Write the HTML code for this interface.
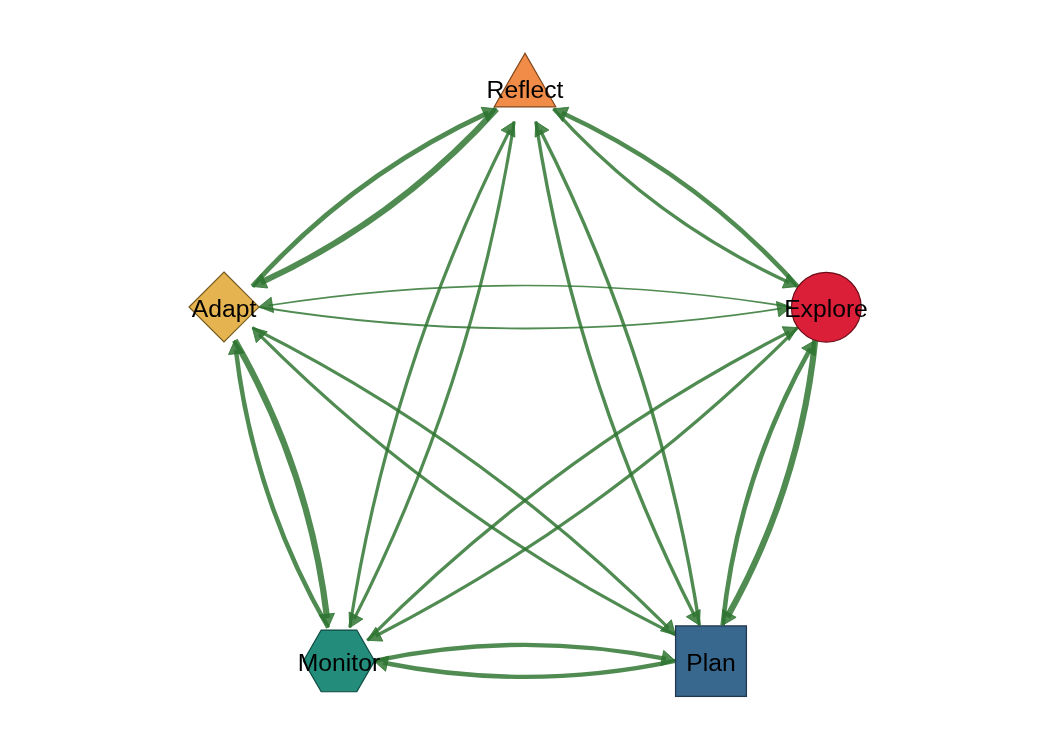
<!DOCTYPE html>
<html><head><meta charset="utf-8"><style>
html,body{margin:0;padding:0;background:#fff;}
svg{display:block;}
text{font-family:"Liberation Sans",sans-serif;font-size:24.7px;fill:#000;text-anchor:middle;}
</style></head><body>
<svg width="1050" height="750" viewBox="0 0 1050 750">
<rect width="1050" height="750" fill="#fff"/>
<g fill="none" stroke="#2C742F" stroke-opacity="0.83" stroke-linecap="butt">
<path d="M258.99 307.00Q520.33 349.24 781.68 308.48" stroke-width="1.8"/>
<path d="M791.01 307.00Q529.67 264.75 268.32 305.51" stroke-width="1.7"/>
<path d="M553.32 108.87Q653.53 220.02 789.09 282.52" stroke-width="3.3"/>
<path d="M797.69 286.42Q697.48 175.27 561.92 112.78" stroke-width="4.6"/>
<path d="M535.82 121.59Q576.01 381.99 695.13 616.74" stroke-width="3.4"/>
<path d="M699.43 625.15Q659.24 364.75 540.12 130.00" stroke-width="3.4"/>
<path d="M373.97 660.85Q520.02 629.84 666.08 658.95" stroke-width="4.4"/>
<path d="M675.33 660.85Q529.28 691.87 383.22 662.76" stroke-width="4.4"/>
<path d="M496.68 108.87Q396.47 220.02 260.91 282.52" stroke-width="6.0"/>
<path d="M252.31 286.42Q352.52 175.27 488.08 112.78" stroke-width="4.8"/>
<path d="M514.18 121.59Q473.60 383.19 354.08 619.15" stroke-width="3.2"/>
<path d="M349.78 627.57Q390.36 365.96 509.89 130.01" stroke-width="3.2"/>
<path d="M797.69 327.57Q611.09 515.36 375.70 635.99" stroke-width="3.2"/>
<path d="M367.28 640.28Q553.88 452.49 789.27 331.86" stroke-width="3.2"/>
<path d="M815.19 340.28Q799.84 487.90 727.32 616.95" stroke-width="6.2"/>
<path d="M722.63 625.15Q737.99 477.54 810.51 348.49" stroke-width="4.6"/>
<path d="M252.31 327.57Q484.87 444.33 668.67 628.21" stroke-width="3.2"/>
<path d="M675.33 634.92Q442.77 518.15 258.97 334.27" stroke-width="3.2"/>
<path d="M234.81 340.28Q309.55 469.94 327.10 618.18" stroke-width="6.2"/>
<path d="M328.15 627.57Q253.41 497.91 235.86 349.67" stroke-width="4.5"/>
</g>
<g fill="#2C742F" fill-opacity="0.83" stroke="#2C742F" stroke-opacity="0.83" stroke-width="1" stroke-linejoin="miter">
<polygon points="791.01,307.00 778.92,316.80 776.45,301.50"/>
<polygon points="258.99,307.00 271.08,297.19 273.55,312.49"/>
<polygon points="797.69,286.42 782.21,288.00 788.52,273.85"/>
<polygon points="553.32,108.87 568.80,107.29 562.49,121.45"/>
<polygon points="699.43,625.15 686.37,616.70 700.15,609.60"/>
<polygon points="535.82,121.59 548.88,130.05 535.10,137.14"/>
<polygon points="675.33,660.85 660.52,665.63 663.74,650.47"/>
<polygon points="373.97,660.85 388.78,656.08 385.56,671.24"/>
<polygon points="252.31,286.42 261.48,273.85 267.79,288.00"/>
<polygon points="496.68,108.87 487.51,121.45 481.20,107.29"/>
<polygon points="349.78,627.57 349.05,612.02 362.84,619.10"/>
<polygon points="514.18,121.59 514.91,137.14 501.12,130.06"/>
<polygon points="367.28,640.28 375.83,627.27 382.83,641.11"/>
<polygon points="797.69,327.57 789.14,340.58 782.15,326.74"/>
<polygon points="722.63,625.15 722.69,609.59 736.10,617.35"/>
<polygon points="815.19,340.28 815.14,355.85 801.72,348.09"/>
<polygon points="675.33,634.92 660.33,630.76 671.36,619.87"/>
<polygon points="252.31,327.57 267.31,331.72 256.28,342.62"/>
<polygon points="328.15,627.57 319.02,614.96 334.44,613.33"/>
<polygon points="234.81,340.28 243.93,352.89 228.52,354.52"/>
</g>

<polygon points="525,53.2 494.2,106.8 555.8,106.8" fill="#F08C48" stroke="#7E4418" stroke-width="1.2"/>
<circle cx="826.31" cy="307.20" r="34.9" fill="#DC1F38" stroke="#6E0B18" stroke-width="1.2"/>
<rect x="675.6" y="625.9" width="70.8" height="70.5" fill="#39688F" stroke="#22384E" stroke-width="1.3"/>
<polygon points="374.60,660.90 356.80,691.73 321.20,691.73 303.40,660.90 321.20,630.07 356.80,630.07" fill="#238C7A" stroke="#0E4A40" stroke-width="1.2"/>
<polygon points="223.99,272.00 258.99,307.00 223.99,342.00 188.99,307.00" fill="#E5B451" stroke="#76591E" stroke-width="1.2"/>

<g style="will-change:transform"><text x="525.00" y="98.10">Reflect</text><text x="826.01" y="316.80">Explore</text><text x="711.03" y="670.65">Plan</text><text x="338.97" y="670.65">Monitor</text><text x="223.99" y="316.80">Adapt</text></g>
</svg>
</body></html>
